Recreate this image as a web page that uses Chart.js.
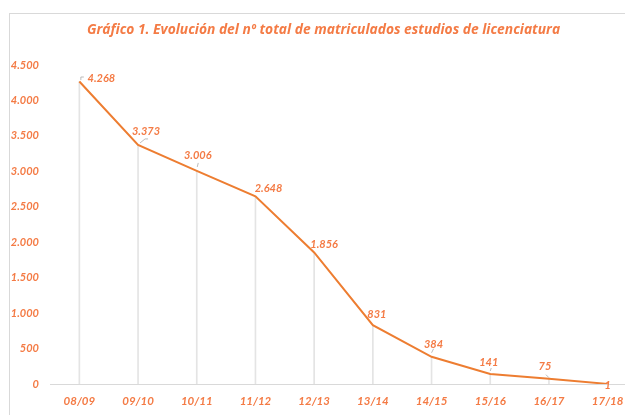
<!DOCTYPE html>
<html>
<head>
<meta charset="utf-8">
<script src="https://cdn.jsdelivr.net/npm/chart.js@4.4.1/dist/chart.umd.min.js"></script>
<style>
    html, body { margin: 0; padding: 0; background: #fff; overflow: hidden; width: 625px; height: 415px; }
    #frame { position: absolute; left: 9px; top: 13px; width: 660px; height: 440px; border: 1px solid #d9d9d9; box-sizing: border-box; }
    #myChart { position: absolute; left: 0; top: 0; }
</style>
</head>
<body>
<div id="frame"><canvas id="myChart" width="650" height="430"></canvas></div>
<script>
// Chart data
const cursos = ["08/09", "09/10", "10/11", "11/12", "12/13", "13/14", "14/15", "15/16", "16/17", "17/18"];
const matriculados = [4268, 3373, 3006, 2648, 1856, 831, 384, 141, 75, 1];
const yMin = 0;
const yMax = 4500;
const yStep = 500;
const titulo = "Gráfico 1. Evolución del nº total de matriculados estudios de licenciatura";

// label nudges relative to each point (px), like Excel's hand-placed labels
const labelShift = [[22, -3], [8, -13], [1, -15], [13, -8], [10, -8], [4, -11], [2, -12.5], [-1.5, -12], [-4, -12], [0, 2]];
// small grey leader lines, relative to the point
const leaders = {
    0: [[1.5, -1.5], [1.5, -4.5], [4.5, -4.5]],
    1: [[2, -2], [7, -6], [10, -6]],
    2: [[0.5, -4], [1.5, -8]],
    6: [[0, -4], [2, -8]],
    7: [[0, -3], [1, -6]],
    8: [[-3, -4], [0, -1]]
};

const orange = '#ED7D31';
const textOrange = '#F47B45';
const grey = '#d9d9d9';
const dropGrey = '#e4e4e4';
const fontFamily = 'Lato, "Liberation Sans", sans-serif';
const titleFamily = '"Open Sans", Lato, sans-serif';

function fmt(v) {
    return String(v).replace(/\B(?=(\d{3})+(?!\d))/g, '.');
}

// draws the value labels next to each point
const valueLabels = {
    id: 'valueLabels',
    afterDatasetsDraw(chart) {
        const ctx = chart.ctx;
        const meta = chart.getDatasetMeta(1);
        ctx.save();
        meta.data.forEach(function (pt, i) {
            const segs = leaders[i];
            if (segs) {
                ctx.strokeStyle = '#a6a6a6';
                ctx.lineWidth = 0.75;
                ctx.beginPath();
                segs.forEach(function (s, k) {
                    if (k === 0) ctx.moveTo(pt.x + s[0], pt.y + s[1]);
                    else ctx.lineTo(pt.x + s[0], pt.y + s[1]);
                });
                ctx.stroke();
            }
            ctx.fillStyle = textOrange;
            ctx.font = 'italic bold 11px ' + fontFamily;
            ctx.textAlign = 'center';
            ctx.textBaseline = 'middle';
            ctx.fillText(fmt(matriculados[i]), pt.x + labelShift[i][0], pt.y + labelShift[i][1]);
        });
        ctx.restore();
    }
};

const ctx = document.getElementById('myChart').getContext('2d');
const myChart = new Chart(ctx, {
    data: {
        labels: cursos,
        datasets: [{
            // drop lines from each point down to the axis
            type: 'bar',
            data: matriculados,
            backgroundColor: dropGrey,
            barThickness: 1,
            order: 2
        }, {
            type: 'line',
            data: matriculados,
            borderColor: orange,
            borderWidth: 2,
            pointRadius: 0,
            tension: 0,
            fill: false,
            order: 1
        }]
    },
    options: {
        responsive: false,
        animation: false,
        layout: { padding: { left: 0, right: 23, top: 0, bottom: 30 } },
        plugins: {
            legend: { display: false },
            tooltip: { enabled: false },
            title: {
                display: true,
                text: titulo,
                color: textOrange,
                font: { family: titleFamily, size: 13.8, style: 'italic', weight: 'bold', lineHeight: 1.2 },
                padding: { top: 7.5, bottom: 27 }
            }
        },
        scales: {
            x: {
                offset: true,
                grid: { display: false, drawTicks: false },
                border: { display: true, color: grey, width: 1 },
                ticks: {
                    color: textOrange,
                    padding: 10,
                    maxRotation: 0,
                    font: { family: fontFamily, size: 11.5, style: 'italic', weight: 'bold' }
                },
                afterFit: function (scale) { scale.height = 30; }
            },
            y: {
                min: yMin,
                max: yMax,
                grid: { display: false, drawTicks: false },
                border: { display: false },
                ticks: {
                    stepSize: yStep,
                    color: textOrange,
                    padding: 11,
                    font: { family: fontFamily, size: 11, style: 'italic', weight: 'bold' },
                    callback: function (v) { return fmt(v); }
                },
                afterFit: function (scale) { scale.width = 40; }
            }
        }
    },
    plugins: [valueLabels]
});
</script>
</body>
</html>
